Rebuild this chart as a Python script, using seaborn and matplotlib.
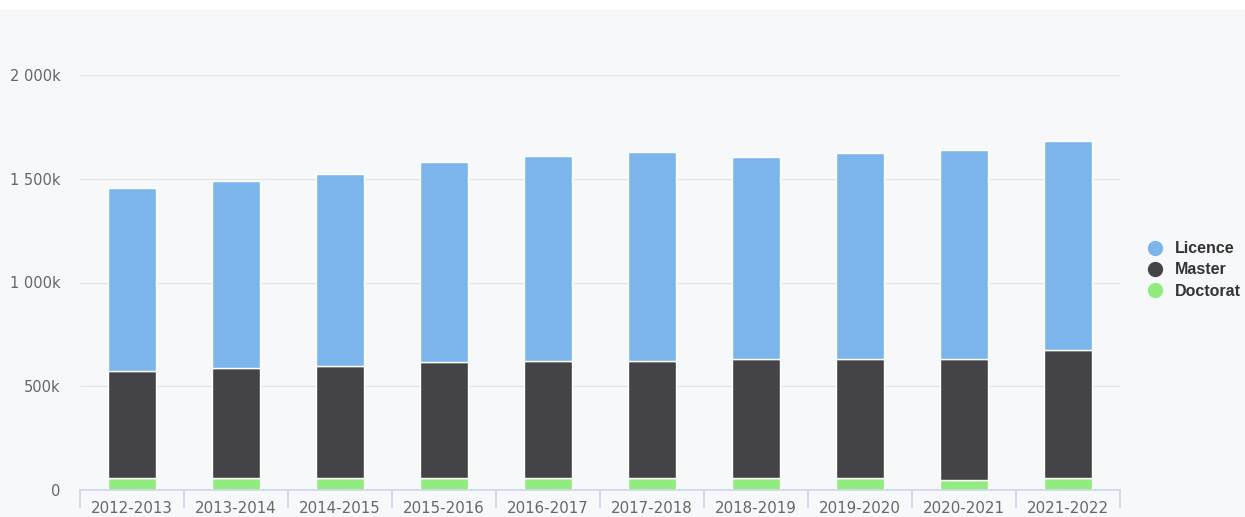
import seaborn as sns
import numpy as np
import pandas as pd
import matplotlib
matplotlib.use('Agg')
import matplotlib.pyplot as plt
from matplotlib.ticker import FuncFormatter, MultipleLocator, FixedLocator
from matplotlib.lines import Line2D
from matplotlib.patches import Rectangle

# data (thousands of students)
years = ['2012-2013', '2013-2014', '2014-2015', '2015-2016', '2016-2017',
         '2017-2018', '2018-2019', '2019-2020', '2020-2021', '2021-2022']
licence = [883, 900, 925, 963, 987, 1006, 975, 995, 1009, 1009]
master = [512, 529, 542, 562, 567, 567, 574, 573, 581, 617]
doctorat = [60, 60, 56, 56, 56, 56, 56, 56, 48, 56]

series = ['Licence', 'Master', 'Doctorat']
colors = {'Licence': '#7cb5ec', 'Master': '#434348', 'Doctorat': '#90ed7d'}

df = pd.DataFrame({
    'year': years,
    'Licence': np.array(licence) * 1000,
    'Master': np.array(master) * 1000,
    'Doctorat': np.array(doctorat) * 1000,
})

sns.set_style('white')
plt.rcParams['font.family'] = ['DejaVu Sans']

W, H = 1245, 517
fig = plt.figure(figsize=(W / 100, H / 100), dpi=100)
fig.patch.set_facecolor('#f7f8fa')
# white strip at the very top
fig.patches.append(Rectangle((0, 1 - 10 / H), 1, 10 / H, transform=fig.transFigure,
                             facecolor='white', edgecolor='none', zorder=0))

x0, x1 = 80, 1120
y_zero, y_top = 490, 75
ax = fig.add_axes([x0 / W, 1 - y_zero / H, (x1 - x0) / W, (y_zero - y_top) / H])
ax.set_facecolor('#f7f8fa')

# stacked bars: Doctorat at bottom, then Master, then Licence
bottom = np.zeros(len(years))
for name in ['Doctorat', 'Master', 'Licence']:
    sns.barplot(data=df, x='year', y=name, color=colors[name], ax=ax,
                width=0.47, bottom=bottom, edgecolor='white', linewidth=1,
                saturation=1, zorder=3)
    bottom = bottom + df[name].values

ax.set_xlim(-0.5, len(years) - 0.5)
ax.set_ylim(0, 2000000)
ax.yaxis.set_major_locator(MultipleLocator(500000))


def fmt(v, pos):
    if v == 0:
        return '0'
    k = int(round(v / 1000))
    s = f'{k:,}'.replace(',', ' ')
    return s + 'k'


ax.yaxis.set_major_formatter(FuncFormatter(fmt))
ax.grid(axis='y', color='#e6e6e6', linewidth=1, zorder=0)
ax.set_axisbelow(True)

for s in ['top', 'right', 'left']:
    ax.spines[s].set_visible(False)
ax.spines['bottom'].set_color('#ccd6eb')
ax.spines['bottom'].set_linewidth(1.2)
ax.spines['bottom'].set_zorder(4)

ax.tick_params(axis='y', left=False, length=0, pad=14, labelsize=10.5, labelcolor='#666666')
ax.tick_params(axis='x', which='major', bottom=True, length=0, pad=8,
               labelsize=10.8, labelcolor='#666666')
ax.xaxis.set_minor_locator(FixedLocator(np.arange(-0.5, len(years), 1.0)))
ax.tick_params(axis='x', which='minor', bottom=True, length=13, width=1.2, color='#ccd6eb')
ax.set_xlabel('')
ax.set_ylabel('')

handles = [Line2D([0], [0], marker='o', linestyle='', markersize=11,
                  markerfacecolor=colors[n], markeredgecolor='none') for n in series]
leg = fig.legend(handles, series, loc='center left',
                 bbox_to_anchor=(1133 / W, 1 - 270 / H), frameon=False,
                 handletextpad=0.2, labelspacing=0.4, borderaxespad=0,
                 prop={'family': 'Liberation Sans', 'size': 11.5, 'weight': 'bold'})
for t in leg.get_texts():
    t.set_color('#333333')

fig.savefig('out.png', dpi=100, facecolor=fig.get_facecolor())
